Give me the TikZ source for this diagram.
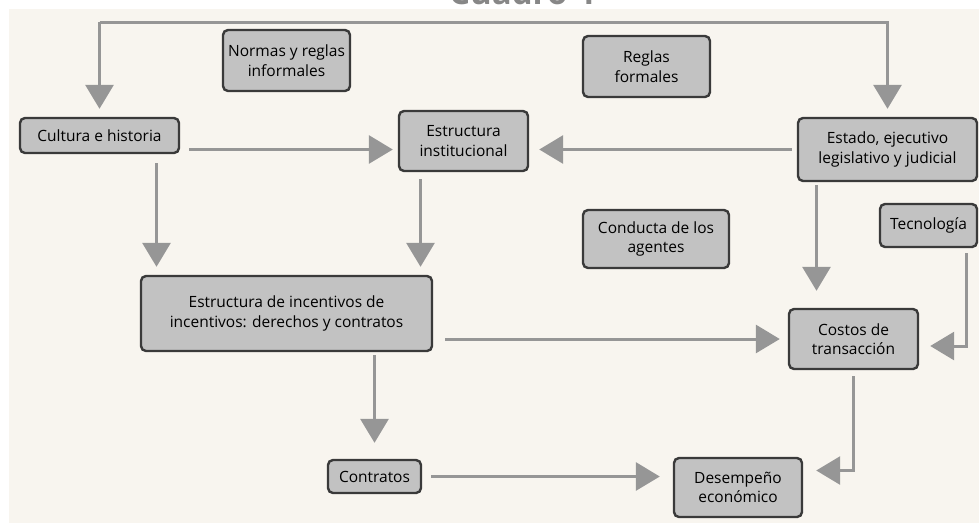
\documentclass[tikz,border=0pt]{standalone}
\usepackage{fontspec}
\setmainfont{Open Sans}
\usetikzlibrary{arrows.meta}

\definecolor{papel}{HTML}{F8F5EF}
\definecolor{relleno}{HTML}{C2C2C2}
\definecolor{borde}{HTML}{3A3A3A}
\definecolor{flecha}{HTML}{969696}

\tikzset{
	caja/.style={draw=borde, fill=relleno, line width=2.4pt, rounded corners=5pt,
		align=center, inner sep=0pt, font=\fontsize{15.5}{19.5}\selectfont},
	flujo/.style={draw=flecha, line width=3pt, -{Triangle[length=24pt,width=28pt]}},
}

\begin{document}
\begin{tikzpicture}[x=1pt,y=-1pt]
		\useasboundingbox (0,0) rectangle (979,523);
		\fill[papel] (9,9) rectangle (979,523);

		\node[anchor=base, text=flecha!90!black, font=\fontsize{33}{33}\selectfont\bfseries] (titulo) at (522,4) {Cuadro 4};

		\node[caja, minimum width=127, minimum height=61] (informal) at (286.5,60.5) {Normas y reglas\\informales};
		\node[caja, minimum width=127, minimum height=61] (formal) at (646.5,66.5) {Reglas\\formales};

		\node[caja, minimum width=159, minimum height=35] (cult) at (99.5,135.5) {Cultura e historia};
		\node[caja, minimum width=129, minimum height=60] (inst) at (463.5,141) {Estructura\\institucional};
		\node[caja, minimum width=179, minimum height=63] (estado) at (887.5,149.5) {Estado, ejecutivo\\legislativo y judicial};

		\node[caja, minimum width=97, minimum height=43] (tecno) at (928.5,225.5) {Tecnología};
		\node[caja, minimum width=146, minimum height=58] (conducta) at (656,239) {Conducta de los\\agentes};

		\node[caja, minimum width=291, minimum height=75] (incent) at (286.5,313.5) {Estructura de incentivos de\\incentivos: derechos y contratos};
		\node[caja, minimum width=129, minimum height=60] (costos) at (853.5,339) {Costos de\\transacción};

		\node[caja, minimum width=93, minimum height=33] (contr) at (374.5,476.5) {Contratos};
		\node[caja, minimum width=128, minimum height=59] (desemp) at (738,487.5) {Desempeño\\económico};

		\coordinate (arriba) at (0,22);

		\draw[flujo, shorten >=8pt] (cult.north |- arriba) -- (estado.north |- arriba) -- (estado.north);
		\draw[flujo, shorten >=8pt] (cult.north |- arriba) -- (cult.north);

		\draw[flujo, shorten <=9pt, shorten >=5pt] (cult.east |- estado.west) -- (inst.west |- estado.west);
		\draw[flujo, shorten <=5pt, shorten >=10pt] (estado.west) -- (inst.east |- estado.west);

		\draw[flujo, shorten <=9pt, shorten >=8pt] ([xshift=57pt]cult.south) -- ([xshift=57pt]cult.south |- incent.north);
		\draw[flujo, shorten <=7pt, shorten >=8pt] ([xshift=-43pt]inst.south) -- ([xshift=-43pt]inst.south |- incent.north);
		\draw[flujo, shorten <=3pt, shorten >=17pt] ([xshift=-71pt]estado.south) -- ([xshift=-71pt]estado.south |- costos.north);

		\draw[flujo, shorten <=5pt, shorten >=11pt] ([xshift=38pt]tecno.south) |- ([yshift=-7pt]costos.east);
		\draw[flujo, shorten <=12pt, shorten >=8pt] (incent.east |- costos.west) -- (costos.west);

		\draw[flujo, shorten <=3pt, shorten >=16pt] (contr.north |- incent.south) -- (contr.north);
		\draw[flujo, shorten <=6pt, shorten >=13pt] (costos.south) |- ([yshift=17pt]desemp.east);
		\draw[flujo, shorten <=9pt, shorten >=13pt] (contr.east) -- (contr.east -| desemp.west);
	\end{tikzpicture}
\end{document}
